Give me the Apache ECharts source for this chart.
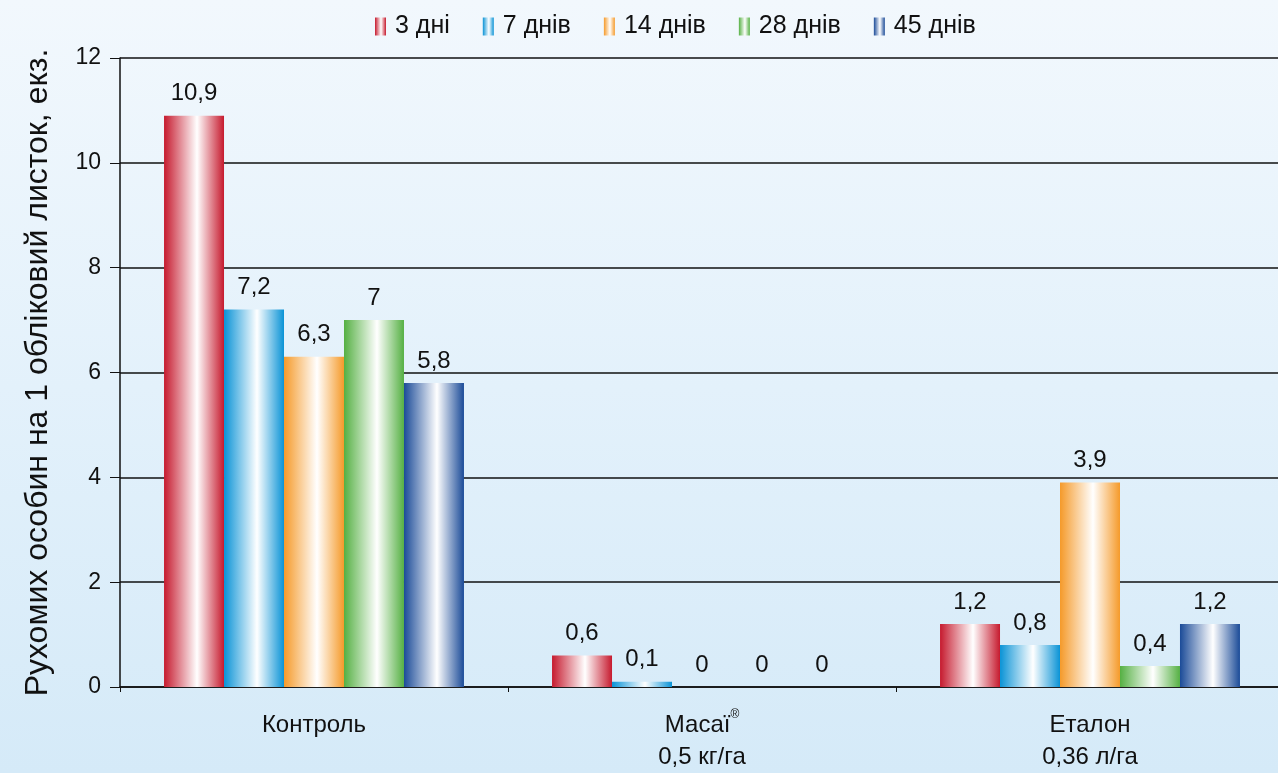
<!DOCTYPE html>
<html lang="uk">
  <head>
    <meta charset="UTF-8" />
    <title>chart</title>
    <script src="https://cdn.jsdelivr.net/npm/echarts@6/dist/echarts.min.js"></script>
    <style>
      body {
        margin: 0;
        padding: 0;
      }

      #main {
        width: 1278px;
        height: 773px;
      }
    </style>
  </head>

  <body>
    <div id="main"></div>
    <script>
      const categories = ["Контроль", "Масаї{sup|®}\n0,5 кг/га", "Еталон\n0,36 л/га"];
      const seriesNames = ["3 дні", "7 днів", "14 днів", "28 днів", "45 днів"];
      const day3 = [10.9, 0.6, 1.2];
      const day7 = [7.2, 0.1, 0.8];
      const day14 = [6.3, 0, 3.9];
      const day28 = [7, 0, 0.4];
      const day45 = [5.8, 0, 1.2];
      const values = [day3, day7, day14, day28, day45];
      const baseColors = ["#c61a2e", "#0a93d6", "#f59a2a", "#55b043", "#1b4b98"];

      // смужка з білим відблиском посередині
      const barGradient = (c) =>
        new echarts.graphic.LinearGradient(0, 0, 1, 0, [
          { offset: 0, color: c },
          { offset: 0.55, color: "#ffffff" },
          { offset: 1, color: c },
        ]);

      const chartDom = document.getElementById("main");
      const myChart = echarts.init(chartDom);
      const fmt = (v) => String(v).replace(".", ",");

      const option = {
        backgroundColor: new echarts.graphic.LinearGradient(0, 0, 0, 1, [
          { offset: 0, color: "#f2f8fd" },
          { offset: 0.5, color: "#e3f1fb" },
          { offset: 1, color: "#d5eaf8" },
        ]),
        textStyle: { fontFamily: "Liberation Sans, Arial, sans-serif", color: "#111" },
        legend: {
          top: 9,
          left: 370,
          icon: "rect",
          itemWidth: 11,
          itemHeight: 18,
          itemGap: 33,
          textStyle: { fontSize: 25, color: "#111", padding: [0, 0, 0, 4] },
          data: seriesNames,
        },
        grid: {
          left: 120,
          top: 58,
          width: 1164,
          height: 629,
          outerBoundsMode: "none",
        },
        xAxis: {
          type: "category",
          data: categories,
          axisLine: { lineStyle: { color: "#111", width: 1.5 } },
          axisTick: { show: true, length: 5, lineStyle: { color: "#111" } },
          axisLabel: {
            fontSize: 24,
            color: "#111",
            margin: 22,
            lineHeight: 32,
            rich: {
              sup: { fontSize: 12, verticalAlign: "top", padding: [0, 0, 14, 0] },
            },
          },
        },
        yAxis: {
          type: "value",
          min: 0,
          max: 12,
          interval: 2,
          name: "Рухомих особин на 1 обліковий листок, екз.",
          nameLocation: "middle",
          nameGap: 66,
          nameTextStyle: { fontSize: 32, color: "#111" },
          axisLine: { show: true, lineStyle: { color: "#111", width: 1.5 } },
          axisTick: { show: true, length: 10, lineStyle: { color: "#111" } },
          axisLabel: { fontSize: 23, color: "#111", margin: 19 },
          splitLine: { lineStyle: { color: "#111", width: 1.5 } },
        },
        series: seriesNames.map((name, i) => ({
          name,
          type: "bar",
          data: values[i],
          barGap: "0%",
          barCategoryGap: "22.7%",
          itemStyle: { color: barGradient(baseColors[i]) },
          label: {
            show: true,
            position: "top",
            distance: 10,
            fontSize: 24,
            color: "#111",
            formatter: (p) => fmt(p.value),
          },
        })),
      };

      myChart.setOption(option);
    </script>
  </body>
</html>
